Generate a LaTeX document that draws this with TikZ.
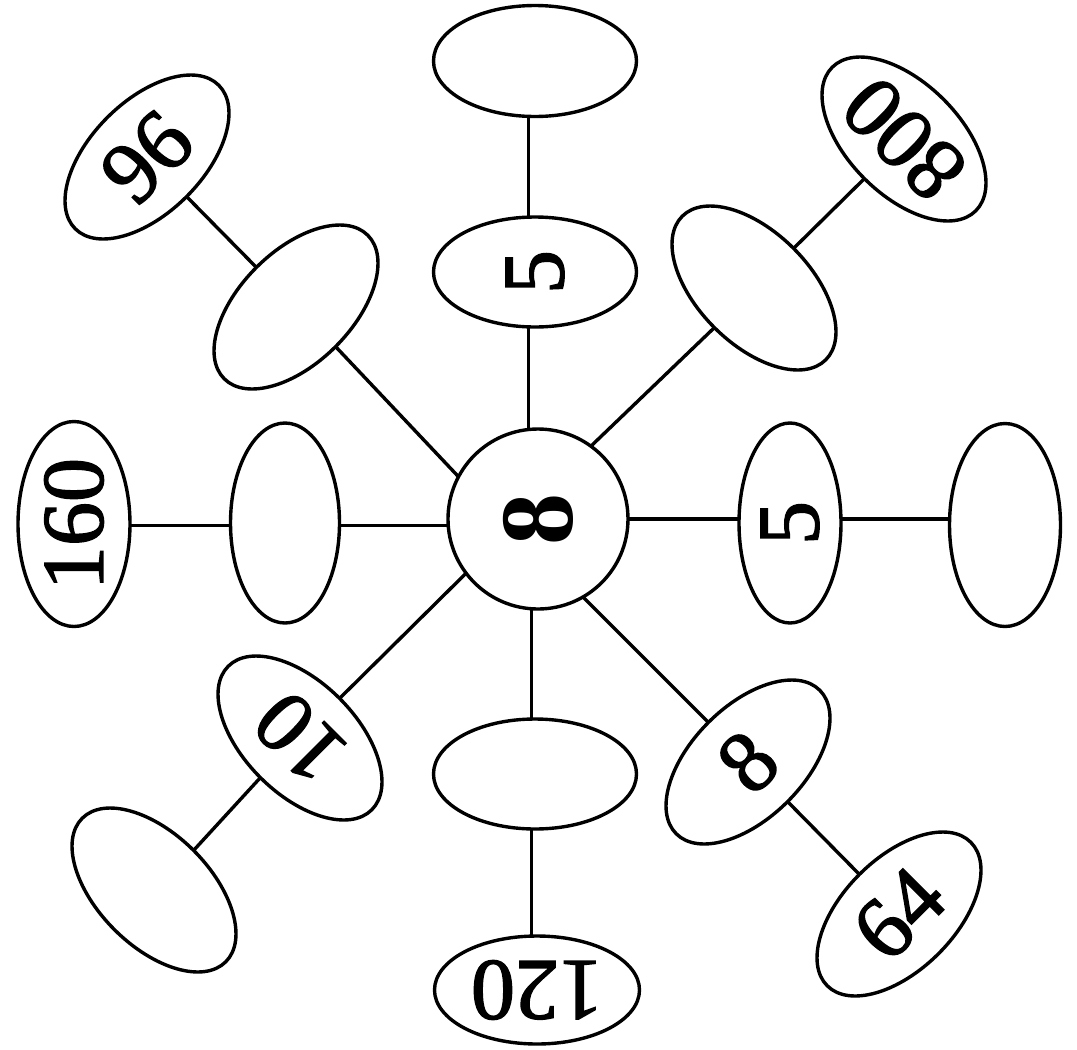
\documentclass[tikz,border=0pt]{standalone}
\usepackage{fontspec}
\setmainfont{Liberation Serif}
\newfontfamily\numfont{Liberation Serif}[FakeBold=1.6]
\usetikzlibrary{shapes.geometric}
\begin{document}
\begin{tikzpicture}[x=1pt,y=-1pt,
  line width=3.4pt,
  oval/.style={ellipse, draw, line width=3.4pt, inner sep=0pt, outer sep=0pt, font=\numfont\fontsize{88}{90}\selectfont},
  diag/.style={oval, minimum width=203pt, minimum height=112pt},
  hub/.style={circle, draw, line width=3.4pt, inner sep=0pt, outer sep=0pt, minimum size=180pt, font=\fontsize{104}{106}\selectfont\bfseries},
  link/.style={line width=3.4pt}]
\useasboundingbox (0,0) rectangle (1077,1050);
% hub
\node[hub] (C) at (538,519) {\rotatebox{90}{8}};
% vertical branch
\node[oval, minimum width=203pt, minimum height=110pt] (T1) at (535,272) {\rotatebox{90}{5}};
\node[oval, minimum width=203pt, minimum height=111pt] (T2) at (535,61) {};
\node[oval, minimum width=203pt, minimum height=110pt] (B1) at (535,774) {};
\node[oval, minimum width=205pt, minimum height=108pt] (B2) at (537,990) {\rotatebox{180}{120}};
% horizontal branch
\node[oval, minimum width=102pt, minimum height=200pt] (R1) at (790,523) {\rotatebox{90}{5}};
\node[oval, minimum width=111pt, minimum height=203pt] (R2) at (1005,525) {};
\node[oval, minimum width=109pt, minimum height=200pt] (L1) at (285,523) {};
\node[oval, minimum width=112pt, minimum height=205pt] (L2) at (74,524) {\rotatebox{90}{160}};
% diagonal branches
\node[diag, rotate=45] (UL1) at (296,307) {};
\node[diag, rotate=45] (UL2) at (147,157) {96};
\node[diag, rotate=135] (UR1) at (754,288) {};
\node[diag, rotate=135] (UR2) at (904,139) {800};
\node[diag, rotate=45] (LR1) at (748,762) {8};
\node[diag, rotate=45] (LR2) at (899,914) {64};
\node[diag, rotate=135] (LL1) at (300,738) {10};
\node[diag, rotate=135] (LL2) at (154,890) {};
% connectors
\draw[link] (C.96) -- (C.96 |- T1.south);
\draw[link] (C.96 |- T1.north) -- (C.96 |- T2.south);
\draw[link] (C.-94) -- (C.-94 |- B1.north);
\draw[link] (C.-94 |- B1.south) -- (C.-94 |- B2.north);
\draw[link] (C.184) -- (C.184 -| L1.east);
\draw[link] (C.184 -| L1.west) -- (C.184 -| L2.east);
\draw[link] (C.0) -- (C.0 -| R1.west);
\draw[link] (C.0 -| R1.east) -- (C.0 -| R2.west);
\draw[link] (C.152) -- (UL1.south);
\draw[link] (UL1.north) -- (UL2.south);
\draw[link] (C.54) -- (UR1.north);
\draw[link] (UR1.south) -- (UR2.north);
\draw[link] (C.-60) -- (LR1.north);
\draw[link] (LR1.south) -- (LR2.north);
\draw[link] (C.217) -- (LL1.south);
\draw[link] (LL1.north) -- (LL2.south);
\end{tikzpicture}
\end{document}
